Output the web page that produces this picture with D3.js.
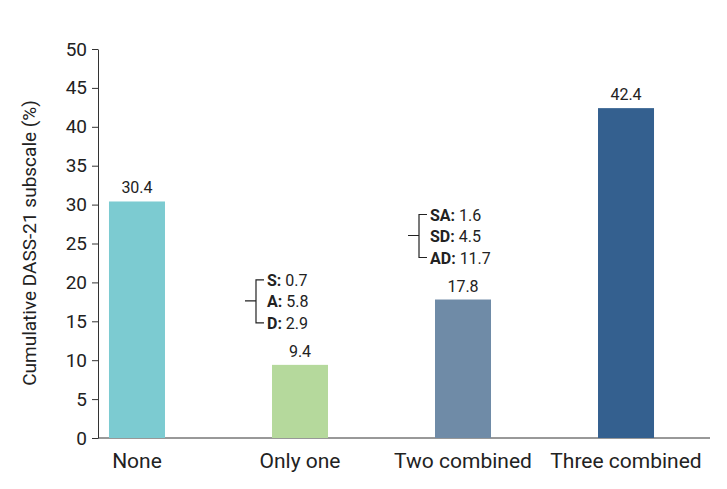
<!DOCTYPE html><html><head><meta charset="utf-8"><script src="https://cdn.jsdelivr.net/npm/d3@7"></script>
<style>body{margin:0;background:#fff}text{font-family:Roboto,sans-serif}</style></head><body><svg id="c" width="727" height="489"></svg>
<script>
const categories=["None","Only one","Two combined","Three combined"];
const values=[30.4,9.4,17.8,42.4];
const colors=["#7ccbd1","#b5d99c","#6f8ba7","#34608f"];
const yTicks=[0,5,10,15,20,25,30,35,40,45,50];
const notes=[{cat:"Only one",items:[["S:","0.7"],["A:","5.8"],["D:","2.9"]]},{cat:"Two combined",items:[["SA:","1.6"],["SD:","4.5"],["AD:","11.7"]]}];
const svg=d3.select("#c");
const x=d3.scaleBand().domain(categories).range([62,701]).paddingInner(0.64).paddingOuter(0.28);
const y=d3.scaleLinear().domain([0,50]).range([438,49]);
const ax=svg.append("g").attr("transform","translate(98,0)").call(d3.axisLeft(y).tickValues(yTicks).tickSize(6).tickSizeOuter(0));
ax.selectAll("text").style("font-size","19px").attr("fill","#222").attr("dx",-2).attr("font-family","Roboto");
ax.selectAll("line,path").attr("stroke","#333");
svg.append("line").attr("x1",98).attr("x2",710).attr("y1",y(0)).attr("y2",y(0)).attr("stroke","#333");
svg.append("text").attr("transform","translate(36,243) rotate(-90)").attr("text-anchor","middle").style("font-size","19px").attr("fill","#222").text("Cumulative DASS-21 subscale (%)");
const bw=56;
categories.forEach((c,i)=>{
 const cx=x(c)+x.bandwidth()/2;
 svg.append("rect").attr("x",cx-bw/2).attr("width",bw).attr("y",y(values[i])).attr("height",y(0)-y(values[i])).attr("fill",colors[i]);
 svg.append("text").attr("x",cx).attr("y",y(values[i])-8).attr("text-anchor","middle").style("font-size","16px").attr("fill","#222").text(values[i]);
 svg.append("text").attr("x",cx).attr("y",468).attr("text-anchor","middle").style("font-size","21px").attr("fill","#222").text(c);
});
notes.forEach(n=>{
 const i=categories.indexOf(n.cat);
 const cx=x(n.cat)+x.bandwidth()/2;
 const top=y(values[i])-64;
 const vx=cx-bw/2-16, g=svg.append("g");
 g.append("path").attr("d",`M${vx-11},${top} H${vx} M${vx+8},${top-21} H${vx} V${top+22} H${vx+8}`).attr("fill","none").attr("stroke","#222").attr("stroke-width",1.2);
 n.items.forEach((it,k)=>{
  const t=g.append("text").attr("x",vx+11).attr("y",top-21+k*21.5+6).style("font-size","16px").attr("fill","#222");
  t.append("tspan").attr("font-weight","bold").text(it[0]);
  t.append("tspan").text(" "+it[1]);
 });
});
</script></body></html>
